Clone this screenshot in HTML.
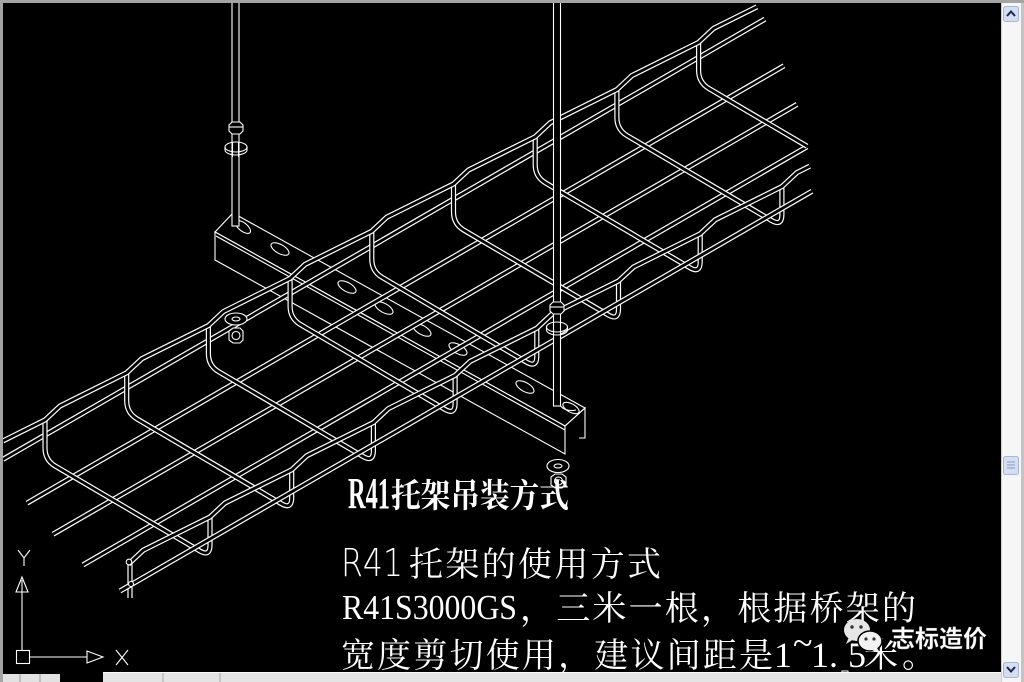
<!DOCTYPE html>
<html><head><meta charset="utf-8"><style>
html,body{margin:0;padding:0;background:#000;}
body{width:1024px;height:682px;overflow:hidden;position:relative;}
svg{position:absolute;left:0;top:0;}
</style></head><body>
<svg width="1024" height="682" viewBox="0 0 1024 682" xmlns="http://www.w3.org/2000/svg">
<defs>
<g id="cw">
<path d="M45,420 L45,448 Q45,460 55.3,466.1 L199.7,550.9 Q210,557 210,545 L210,517" fill="none" stroke="#fff" stroke-width="5.2"/>
<path d="M45,420 L45,448 Q45,460 55.3,466.1 L199.7,550.9 Q210,557 210,545 L210,517" fill="none" stroke="#000" stroke-width="2.8"/>
</g>
</defs>
<rect x="0" y="0" width="1024" height="682" fill="#000"/>

<!-- strut (R41 channel) -->
<g stroke="#fff" stroke-width="1.1" fill="#000">
<path d="M233,213 L585,408 L565,426 L215,232 Z"/>
<path d="M215,232 L565,426 L565,454 L215,260 Z"/>
<path d="M565,426 L585,408 L585,438 L579,438" fill="none"/>
<path d="M216,236 L565,430" fill="none"/>
<g fill="#000">
<ellipse cx="243" cy="227" rx="9" ry="4.2" transform="rotate(38 243 227)"/>
<ellipse cx="280" cy="249" rx="10" ry="4.5" transform="rotate(29 280 249)"/>
<ellipse cx="347" cy="287" rx="10" ry="4.5" transform="rotate(29 347 287)"/>
<ellipse cx="384" cy="308" rx="10" ry="4.5" transform="rotate(29 384 308)"/>
<ellipse cx="422" cy="330" rx="10" ry="4.5" transform="rotate(29 422 330)"/>
<ellipse cx="458" cy="349" rx="10" ry="4.5" transform="rotate(29 458 349)"/>
<ellipse cx="525" cy="387" rx="10" ry="4.5" transform="rotate(29 525 387)"/>
<ellipse cx="571" cy="408" rx="9" ry="4.2" transform="rotate(29 571 408)"/>
</g>
</g>

<!-- tray: floor longitudinal wires -->
<g fill="none">
<g stroke="#fff" stroke-width="5.2">
<path d="M27,503.1 L784,65.8"/>
<path d="M53,534.2 L797,104.4"/>
<path d="M83,564.9 L807,146.7"/>
<path d="M3,459.3 L765,19.1"/>
</g>
<g stroke="#000" stroke-width="2.8">
<path d="M27,503.1 L784,65.8"/>
<path d="M53,534.2 L797,104.4"/>
<path d="M83,564.9 L807,146.7"/>
<path d="M3,459.3 L765,19.1"/>
</g>
</g>

<!-- cross wires -->
<use href="#cw"/>
<use href="#cw" transform="translate(81.7,-47.2)"/>
<use href="#cw" transform="translate(163.4,-94.4)"/>
<use href="#cw" transform="translate(245.1,-141.6)"/>
<use href="#cw" transform="translate(326.8,-188.8)"/>
<use href="#cw" transform="translate(408.5,-236)"/>
<use href="#cw" transform="translate(490.2,-283.2)"/>
<use href="#cw" transform="translate(571.9,-330.4)"/>
<path d="M698.6,42.4 L698.6,70.4 Q698.6,82.4 708.9,88.5 L807,146.2" fill="none" stroke="#fff" stroke-width="5.2"/>
<path d="M698.6,42.4 L698.6,70.4 Q698.6,82.4 708.9,88.5 L807,146.2" fill="none" stroke="#000" stroke-width="2.8"/>
<path d="M130,564.2 L130,598" fill="none" stroke="#fff" stroke-width="5.2"/>
<path d="M130,564.2 L130,598" fill="none" stroke="#000" stroke-width="2.8"/>

<!-- rails -->
<g fill="none">
<g stroke="#fff" stroke-width="5.2">
<path d="M3,440.9 L45,420 l15,-14 l66.7,-33.2 l15,-14 l66.7,-33.2 l15,-14 l66.7,-33.2 l15,-14 l66.7,-33.2 l15,-14 l66.7,-33.2 l15,-14 l66.7,-33.2 l15,-14 l66.7,-33.2 l15,-14 l66.7,-33.2 l15,-14 l43.4,-21.6"/>
<path d="M120,591 L812,191.2"/>
<path d="M128.3,564.2 l15,-14 l66.7,-33.2 l15,-14 l66.7,-33.2 l15,-14 l66.7,-33.2 l15,-14 l66.7,-33.2 l15,-14 l66.7,-33.2 l15,-14 l66.7,-33.2 l15,-14 l66.7,-33.2 l15,-14 l66.7,-33.2 l15,-14 l12.8,-6.4"/>
</g>
<g stroke="#000" stroke-width="2.8">
<path d="M3,440.9 L45,420 l15,-14 l66.7,-33.2 l15,-14 l66.7,-33.2 l15,-14 l66.7,-33.2 l15,-14 l66.7,-33.2 l15,-14 l66.7,-33.2 l15,-14 l66.7,-33.2 l15,-14 l66.7,-33.2 l15,-14 l66.7,-33.2 l15,-14 l43.4,-21.6"/>
<path d="M120,591 L812,191.2"/>
<path d="M128.3,564.2 l15,-14 l66.7,-33.2 l15,-14 l66.7,-33.2 l15,-14 l66.7,-33.2 l15,-14 l66.7,-33.2 l15,-14 l66.7,-33.2 l15,-14 l66.7,-33.2 l15,-14 l66.7,-33.2 l15,-14 l66.7,-33.2 l15,-14 l12.8,-6.4"/>
</g>
</g>
<circle cx="129" cy="562" r="2.8" fill="#000" stroke="#fff" stroke-width="1.1"/>
<circle cx="131" cy="584" r="2.5" fill="#000" stroke="#fff" stroke-width="1.1"/>

<!-- rods, nuts, washers -->
<g stroke="#fff" stroke-width="1.1" fill="#000">
<rect x="232" y="2" width="7" height="224"/>
<path d="M229,125 L232,122 L240,122 L243,125 L243,131 L240,134 L232,134 L229,131 Z"/>
<path d="M229,127 L243,127" fill="none"/>
<ellipse cx="236" cy="147" rx="11" ry="5" fill="none"/>
<path d="M225,147 L225,150 A11,5 0 0 0 247,150 L247,147" fill="none"/>
<path d="M232.5,142 L232.5,157 M238.5,142 L238.5,157" fill="none"/>

<rect x="553.5" y="2" width="7" height="404"/>
<path d="M550,305 L553,302 L561,302 L564,305 L564,311 L561,314 L553,314 L550,311 Z"/>
<path d="M550,307 L564,307" fill="none"/>
<ellipse cx="557" cy="327" rx="10.5" ry="5" fill="none"/>
<path d="M546.5,327 L546.5,330 A10.5,5 0 0 0 567.5,330 L567.5,327" fill="none"/>
<path d="M560.5,406 Q566,412 576,410" fill="none"/>

<ellipse cx="236" cy="319" rx="11" ry="6"/>
<ellipse cx="236" cy="319" rx="4" ry="2"/>
<path d="M229,331 L233,328 L240,328 L243,331 L243,340 L240,343 L233,343 L229,340 Z"/>
<circle cx="236" cy="335.5" r="4" fill="none"/>

<ellipse cx="558" cy="466" rx="11" ry="6.5"/>
<ellipse cx="558" cy="466" rx="4" ry="2"/>
<path d="M551,477 L555,474 L562,474 L566,477 L566,485 L562,488 L555,488 L551,485 Z"/>
<circle cx="558.5" cy="481" r="4" fill="none"/>
</g>

<!-- texts -->
<g fill="#fff">
<text x="348" y="508" font-family="'Liberation Serif','Noto Serif CJK SC',serif" font-weight="bold" font-size="44" textLength="42" lengthAdjust="spacingAndGlyphs">R41</text>
<text x="391" y="507" font-family="'Liberation Serif','Noto Serif CJK SC',serif" font-weight="bold" font-size="33" textLength="178" lengthAdjust="spacingAndGlyphs">托架吊装方式</text>

<text x="341" y="576" font-family="'DejaVu Sans ExtraLight','DejaVu Sans','Liberation Sans',sans-serif" font-weight="200" font-size="38" textLength="62" lengthAdjust="spacingAndGlyphs">R41</text>
<text x="409" y="576" font-family="'Liberation Serif','Noto Serif CJK SC',serif" font-size="34" textLength="252">托架的使用方式</text>

<text x="342" y="619" font-family="'Liberation Serif','Noto Serif CJK SC',serif" font-size="35" textLength="175" lengthAdjust="spacingAndGlyphs">R41S3000GS</text>
<text x="520" y="620" font-family="'Liberation Serif','Noto Serif CJK SC',serif" font-size="34" textLength="396">，三米一根，根据桥架的</text>

<text x="341" y="667" font-family="'Liberation Serif','Noto Serif CJK SC',serif" font-size="34" textLength="432">宽度剪切使用，建议间距是</text>
<text y="667" font-family="'Liberation Serif',serif" font-size="36"><tspan x="774">1</tspan><tspan x="793" dy="-12">~</tspan><tspan x="811" dy="12">1.</tspan><tspan x="848">5</tspan></text>
<text x="864" y="667" font-family="'Liberation Serif','Noto Serif CJK SC',serif" font-size="34" textLength="72">米。</text>
</g>
<rect x="842" y="671" width="6" height="6" fill="none" stroke="#fff" stroke-width="1"/>

<!-- watermark -->
<g>
<ellipse cx="857" cy="630" rx="13" ry="11" fill="#e6e6e6"/>
<path d="M849,637 L846,644 L854,639 Z" fill="#e6e6e6"/>
<circle cx="852" cy="627" r="1.7" fill="#333"/>
<circle cx="861" cy="627" r="1.7" fill="#333"/>
<ellipse cx="870" cy="641" rx="12" ry="10" fill="#f2f2f2" stroke="#000" stroke-width="1.5"/>
<path d="M877,648 L881,654 L872,650 Z" fill="#f2f2f2"/>
<circle cx="866" cy="639" r="1.6" fill="#333"/>
<circle cx="874" cy="639" r="1.6" fill="#333"/>
<text x="891" y="647" font-family="'Noto Sans CJK SC',sans-serif" font-weight="bold" font-size="24" textLength="96" lengthAdjust="spacingAndGlyphs" fill="#fff" stroke="#555" stroke-width="0.3">志标造价</text>
</g>

<!-- UCS icon -->
<g stroke="#fff" stroke-width="1.1" fill="none">
<path d="M18,550 L24,558 L30,550 M24,558 L24,566"/>
<path d="M22,577 L16,592 L28,592 Z"/>
<path d="M22,580 L22,650"/>
<rect x="16.5" y="650.5" width="13" height="13"/>
<path d="M30,657 L87,657"/>
<path d="M103,657 L87,651 L87,663 Z"/>
<path d="M116,650 L128,665 M128,650 L116,665"/>
</g>

<!-- window frame -->
<rect x="0" y="0" width="1024" height="3" fill="#a4a4a4"/>
<rect x="0" y="0" width="3" height="682" fill="#a4a4a4"/>
<rect x="1001" y="3" width="23" height="679" fill="#f6f6f6"/>
<rect x="1001" y="3" width="1" height="679" fill="#cfcfcf"/>
<rect x="1021" y="3" width="3" height="679" fill="#c4c4c4"/>
<rect x="1003.5" y="6.5" width="15" height="15" rx="2" fill="#d4ddf1" stroke="#a9b7d6"/>
<path d="M1007,16 L1011,11.5 L1015,16" fill="none" stroke="#1e2a44" stroke-width="2"/>
<rect x="1003.5" y="456.5" width="15" height="18" rx="2" fill="#d4ddf1" stroke="#a9b7d6"/>
<path d="M1007,462 H1015 M1007,465 H1015 M1007,468 H1015" stroke="#8a9abf" stroke-width="1"/>
<rect x="1003.5" y="662.5" width="15" height="15" rx="2" fill="#d4ddf1" stroke="#a9b7d6"/>
<path d="M1007,667 L1011,671.5 L1015,667" fill="none" stroke="#1e2a44" stroke-width="2"/>
<rect x="3" y="674" width="57" height="8" fill="#e2e2e2"/>
<path d="M20,674 V682 M40,674 V682" stroke="#999" stroke-width="1"/>
<rect x="103" y="672" width="898" height="10" fill="#e4e4e4"/>
<rect x="103" y="672" width="898" height="1" fill="#fafafa"/>
<path d="M163,673 V682 M220,673 V682" stroke="#a8a8a8" stroke-width="1"/>
</svg>
</body></html>
